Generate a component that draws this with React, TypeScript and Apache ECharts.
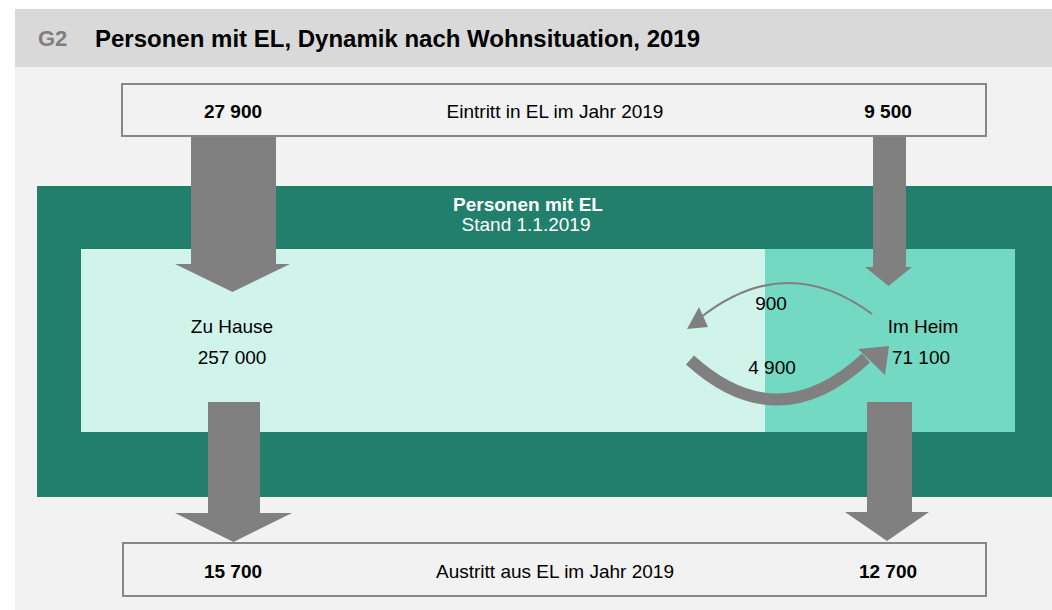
import React, { useEffect, useRef } from "react";
import * as echarts from "echarts";

const titleCode = "G2";
const titleText = "Personen mit EL, Dynamik nach Wohnsituation, 2019";
const boxLabels = ["Eintritt in EL im Jahr 2019", "Austritt aus EL im Jahr 2019"];
const entries = [27900, 9500];
const exits = [15700, 12700];
const stockLabels = ["Zu Hause", "Im Heim"];
const stockValues = [257000, 71100];
const transfers = [900, 4900];
const centerTitle = ["Personen mit EL", "Stand 1.1.2019"];

const fmt = (v: number) => String(v).replace(/\B(?=(\d{3})+(?!\d))/g, " ");

const FONT = "'Liberation Sans', Arial, sans-serif";
const GREY = "#808080";

function downArrow(x1: number, x2: number, yTop: number, yHeadStart: number, hx1: number, hx2: number, yTip: number) {
  const cx = (hx1 + hx2) / 2;
  return {
    type: "polygon",
    shape: {
      points: [
        [x1, yTop], [x2, yTop], [x2, yHeadStart], [hx2, yHeadStart],
        [cx, yTip], [hx1, yHeadStart], [x1, yHeadStart],
      ],
    },
    style: { fill: GREY },
    z: 10,
  };
}

function txt(x: number, y: number, text: string, opts: any = {}) {
  return {
    type: "text",
    x,
    y,
    z: 20,
    style: {
      text,
      fill: opts.fill || "#000",
      font: `${opts.bold ? "bold " : ""}${opts.size || 19}px ${FONT}`,
      textAlign: opts.align || "center",
      textVerticalAlign: "middle",
    },
  };
}

export default function App() {
  const ref = useRef<HTMLDivElement>(null);
  useEffect(() => {
    if (!ref.current) return;
    const chart = echarts.init(ref.current, null, { renderer: "svg" });
    const elements: any[] = [
      { type: "rect", shape: { x: 15, y: 9, width: 1037, height: 58 }, style: { fill: "#d9d9d9" }, z: 1 },
      { type: "rect", shape: { x: 15, y: 67, width: 1037, height: 543 }, style: { fill: "#f2f2f2" }, z: 1 },
      { type: "rect", shape: { x: 37, y: 186, width: 1015, height: 311 }, style: { fill: "#217f6b" }, z: 2 },
      { type: "rect", shape: { x: 81, y: 249, width: 684, height: 183 }, style: { fill: "#d0f4ea" }, z: 3 },
      { type: "rect", shape: { x: 765, y: 249, width: 250, height: 183 }, style: { fill: "#74d9c2" }, z: 3 },
      { type: "rect", shape: { x: 122, y: 84, width: 864, height: 52 }, style: { fill: "#f2f2f2", stroke: "#878787", lineWidth: 2 }, z: 5 },
      { type: "rect", shape: { x: 123, y: 543, width: 863, height: 53 }, style: { fill: "#f2f2f2", stroke: "#878787", lineWidth: 2 }, z: 5 },
      downArrow(191, 276, 137, 264, 175, 290, 292),
      downArrow(873, 906, 137, 267, 865, 912, 286),
      downArrow(208, 260, 402, 513, 175, 292, 542),
      downArrow(867, 912, 402, 512, 845, 929, 541),
      {
        type: "bezierCurve",
        shape: { x1: 872, y1: 314, x2: 700, y2: 318, cpx1: 786, cpy1: 250 },
        style: { stroke: GREY, lineWidth: 2, fill: "none" },
        z: 10,
      },
      { type: "polygon", shape: { points: [[687, 329], [699, 307], [708, 327]] }, style: { fill: GREY }, z: 10 },
      {
        type: "bezierCurve",
        shape: { x1: 690, y1: 360, x2: 866, y2: 358, cpx1: 778, cpy1: 440 },
        style: { stroke: GREY, lineWidth: 12, fill: "none" },
        z: 10,
      },
      { type: "polygon", shape: { points: [[858, 349], [889, 346], [885, 375]] }, style: { fill: GREY }, z: 10 },
      txt(38, 38, titleCode, { bold: true, size: 22, fill: "#7f7f7f", align: "left" }),
      txt(95, 38, titleText, { bold: true, size: 24, align: "left" }),
      txt(233, 111, fmt(entries[0]), { bold: true }),
      txt(555, 111, boxLabels[0]),
      txt(888, 111, fmt(entries[1]), { bold: true }),
      txt(528, 204, centerTitle[0], { bold: true, fill: "#ffffff" }),
      txt(526, 224, centerTitle[1], { fill: "#ffffff" }),
      txt(232, 326, stockLabels[0]),
      txt(232, 357, fmt(stockValues[0])),
      txt(923, 326, stockLabels[1]),
      txt(921, 357, fmt(stockValues[1])),
      txt(771, 303, fmt(transfers[0])),
      txt(772, 367, fmt(transfers[1])),
      txt(233, 571, fmt(exits[0]), { bold: true }),
      txt(555, 571, boxLabels[1]),
      txt(888, 571, fmt(exits[1]), { bold: true }),
    ];
    chart.setOption({ animation: false, graphic: { elements } });
    return () => chart.dispose();
  }, []);
  return (
    <div
      ref={ref}
      style={{ position: "absolute", left: 0, top: 0, width: 1052, height: 610, background: "#ffffff" }}
    />
  );
}
